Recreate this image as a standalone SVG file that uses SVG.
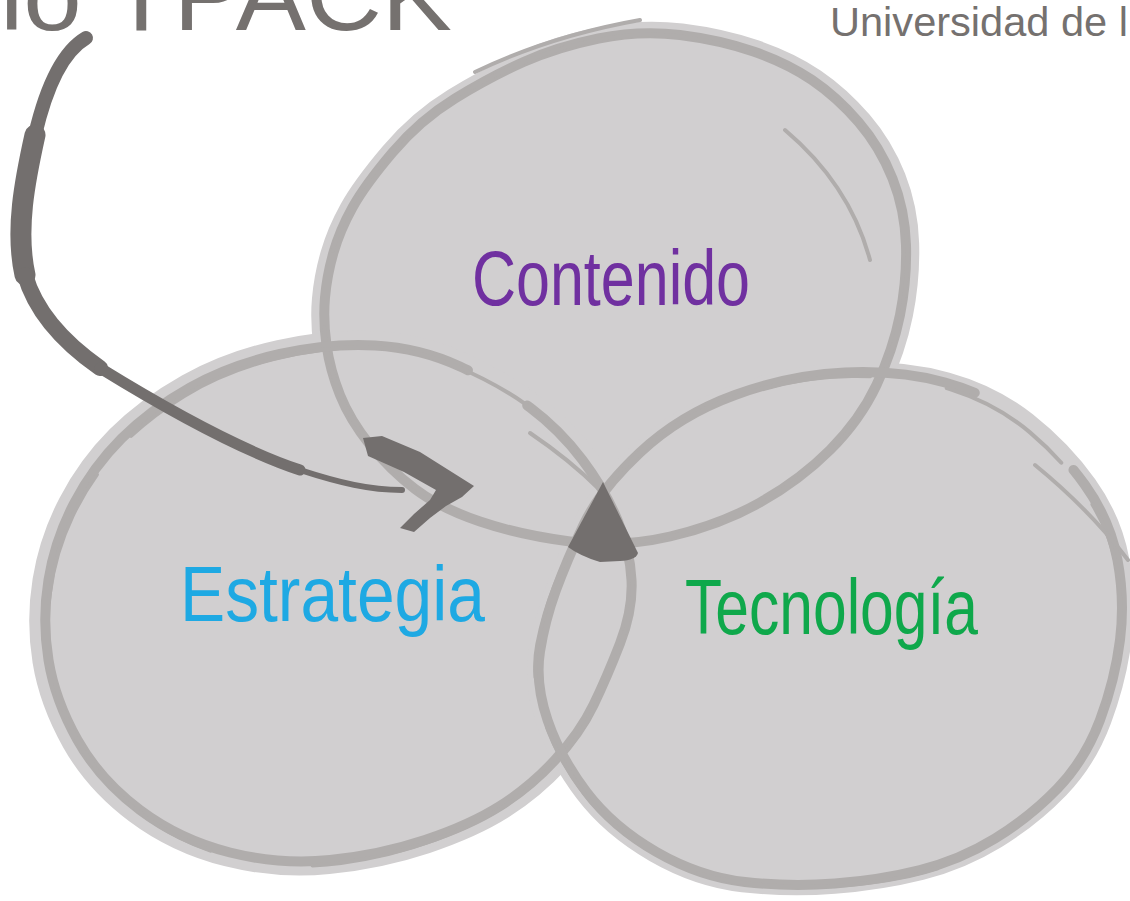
<svg xmlns="http://www.w3.org/2000/svg" width="1130" height="901" viewBox="0 0 1130 901">
  <style>
    .fill { fill: #d1cfd0; }
    .ring { fill: none; stroke: #b0adac; stroke-width: 10; stroke-linejoin: round; stroke-linecap: round; }
    .ring2 { fill: none; stroke: #b0adac; stroke-width: 4; stroke-dasharray: 140 45 80 30 200 60; stroke-linecap: round; }
    .streak { fill: none; stroke: #b0adac; stroke-width: 4; stroke-linecap: round; }
    .brush { fill: none; stroke: #736f6e; stroke-linecap: round; stroke-linejoin: round; }
    .label { font-family: "Liberation Sans", Arial, sans-serif; font-size: 78px; }
    .gray { fill: #75716f; font-family: "Liberation Sans", Arial, sans-serif; }
  </style>
  <defs>
    <path id="topPath" pathLength="1000" d="M680,35 Q720,40 753.5,51.5 Q787,63 812,80 Q837,97 858.5,122 Q880,147 892.5,178.5 Q905,210 906,245 Q907,280 900,315 Q893,350 876.5,385 Q860,420 830,450 Q800,480 760,502.5 Q720,525 670,536.5 Q620,548 570,541.5 Q520,535 480,521.5 Q440,508 415,489 Q390,470 370,445 Q350,420 340,395 Q330,370 326.5,345 Q323,320 325,297.5 Q327,275 333.5,252.5 Q340,230 352.5,207.5 Q365,185 392.5,152.5 Q420,120 455,98.5 Q490,77 523.5,62 Q557,47 598.5,38.5 Q640,30 680,35 Z"/>
    <path id="rightPath" pathLength="1000" d="M640,452.5 Q680,415 735,395 Q790,375 845,372.5 Q900,370 945,382.5 Q990,395 1025,422.5 Q1060,450 1085,485 Q1110,520 1117.5,560 Q1125,600 1120,640 Q1115,680 1100,720 Q1085,760 1057.5,788.5 Q1030,817 995,838.5 Q960,860 920,870 Q880,880 835,883.5 Q790,887 745,882 Q700,877 656.5,852 Q613,827 586.5,792 Q560,757 547.5,720 Q535,683 540,651.5 Q545,620 556,590 Q567,560 583.5,525 Q600,490 640,452.5 Z"/>
    <path id="leftPath" pathLength="1000" d="M375,345.5 Q420,348 460,366.5 Q500,385 530,407.5 Q560,430 582.5,460 Q605,490 617.5,520 Q630,550 631.5,580 Q633,610 620,643.5 Q607,677 593.5,705 Q580,733 555,760 Q530,787 500,806 Q470,825 425,840 Q380,855 330,860 Q280,865 230,852.5 Q180,840 140,810 Q100,780 77.5,740 Q55,700 48.5,660 Q42,620 48.5,580 Q55,540 74,503.5 Q93,467 121.5,438.5 Q150,410 190,387.5 Q230,365 280,354 Q330,343 375,345.5 Z"/>
  </defs>

  <!-- title texts (partially cropped, as in the source picture) -->
  <text id="title" class="gray" x="0" y="30" font-size="100" textLength="452" lengthAdjust="spacingAndGlyphs">lo TPACK</text>
  <text id="institution" class="gray" x="830" y="36" font-size="40" textLength="298" lengthAdjust="spacingAndGlyphs">Universidad de l</text>

  <!-- circle fills -->
  <g id="venn-fills">
    <use href="#topPath" class="fill" transform="translate(614 288) scale(1.045) translate(-614 -288)"/>
    <use href="#leftPath" class="fill" transform="translate(337 605) scale(1.055) translate(-337 -605)"/>
    <use href="#rightPath" class="fill" transform="translate(830 628) scale(1.04) translate(-830 -628)"/>
  </g>

  <g id="node-contenido">
    <use href="#topPath" class="ring"/>
    <use href="#topPath" class="ring2" transform="rotate(2 614 288)"/>
    <path class="streak" d="M475,72 Q550,36 640,20"/>
    <path class="streak" d="M785,130 Q850,185 870,260"/>
    <text class="label" x="472" y="305" fill="#7030a0" textLength="278" lengthAdjust="spacingAndGlyphs">Contenido</text>
  </g>

  <g id="node-estrategia">
    <use href="#leftPath" class="ring" stroke-dasharray="56 40 904"/>
    <use href="#leftPath" class="ring2" transform="rotate(-2 337 605) translate(2 3)"/>
    <path class="streak" d="M530,433 Q570,460 600,490"/>
    <text class="label" x="180" y="621" fill="#1ea9e3" textLength="305" lengthAdjust="spacingAndGlyphs">Estrategia</text>
  </g>

  <g id="node-tecnologia">
    <use href="#rightPath" class="ring" stroke-dasharray="206 73 721"/>
    <use href="#rightPath" class="ring2" transform="rotate(2 830 628) translate(-2 3)" stroke-dasharray="170 160 150 40 220 60 200"/>
    <path class="streak" d="M1035,465 Q1090,510 1128,560"/>
    <text class="label" x="685" y="634" fill="#0fa84b" textLength="293" lengthAdjust="spacingAndGlyphs">Tecnología</text>
  </g>

  <!-- connector: hand-drawn arrow -->
  <g id="connectors">
    <path class="brush" stroke-width="14" d="M86,38 C62,52 46,88 35,135"/>
    <path class="brush" stroke-width="21" d="M35,135 C25,180 15,230 25,275"/>
    <path class="brush" stroke-width="16" d="M25,275 C35,310 60,340 100,368"/>
    <path class="brush" stroke-width="11" d="M100,368 C160,405 240,450 300,470"/>
    <path class="brush" stroke-width="6" d="M300,470 C340,483 370,490 402,490"/>
    <path fill="#736f6e" d="M363,438 L382,436 L420,452 L474,486 L462,497 L446,506 L430,518 L414,532 L400,528 L414,514 L430,500 L436,490 L404,472 L368,456 Z"/>
  </g>

  <g id="center-marker">
    <path fill="#736f6e" d="M603,482 L638,553 Q636,560 620,561 L600,562 Q580,556 568,547 Z"/>
  </g>
</svg>
